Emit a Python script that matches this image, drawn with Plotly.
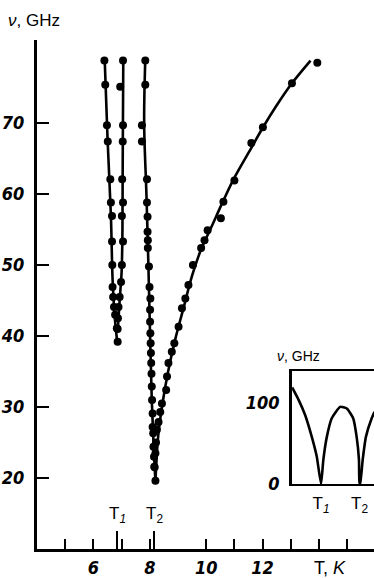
import plotly.graph_objects as go

# ---------------- data ----------------
# Branch 1 (leftmost)
b1_T = [6.39, 6.42, 6.48, 6.51, 6.60, 6.62, 6.66, 6.66, 6.67, 6.68, 6.70, 6.73, 6.77, 6.83, 6.86]
b1_v = [78.8, 75.4, 69.7, 67.4, 62.1, 58.8, 56.9, 53.3, 50.0, 46.9, 45.5, 44.1, 43.0, 41.1, 39.2]
b1_curve_T = [6.40, 6.50, 6.62, 6.68, 6.75, 6.85]
b1_curve_v = [79.0, 68.0, 57.0, 48.0, 43.0, 39.0]

# Branch 2
b2_T = [7.05, 6.95, 7.05, 7.04, 7.02, 7.05, 7.01, 7.05, 7.01, 6.98, 6.93, 6.89, 6.87, 6.86]
b2_v = [78.8, 75.1, 69.7, 67.4, 62.1, 58.8, 56.9, 53.3, 50.0, 47.6, 45.5, 44.1, 42.5, 41.0]
b2_curve_T = [7.06, 7.04, 7.03, 7.00, 6.93, 6.86]
b2_curve_v = [79.0, 65.0, 55.0, 49.0, 45.0, 40.5]

# Branch 3
b3_T = [7.84, 7.84, 7.72, 7.72, 7.90, 7.90, 7.92, 7.92, 7.93, 7.93, 7.97, 7.99, 8.02, 8.01, 8.01,
        8.02, 8.03, 8.04, 8.05, 8.06, 8.07, 8.08, 8.10, 8.10, 8.12, 8.13, 8.15, 8.16, 8.20]
b3_v = [78.8, 75.4, 69.7, 67.4, 62.1, 58.8, 56.8, 54.7, 53.5, 52.4, 49.8, 46.9, 45.3, 43.7, 42.0,
        40.4, 39.0, 37.6, 36.2, 34.7, 32.9, 31.0, 29.1, 27.2, 26.3, 24.4, 23.0, 21.6, 19.6]
b3_curve_T = [7.84, 7.80, 7.88, 7.95, 8.01, 8.07, 8.14, 8.20]
b3_curve_v = [79.0, 70.0, 60.0, 50.0, 40.0, 31.0, 24.0, 19.5]

# Branch 4 (rising)
b4_T = [8.17, 8.20, 8.22, 8.25, 8.31, 8.37, 8.43, 8.58, 8.61, 8.66, 8.78, 8.87, 9.02, 9.14, 9.26,
        9.37, 9.53, 9.82, 9.94, 10.05, 10.52, 10.61, 11.00, 11.60, 12.01, 13.04, 13.94]
b4_v = [21.5, 23.5, 25.0, 26.8, 27.9, 29.3, 30.5, 32.4, 34.3, 36.2, 37.8, 39.0, 41.3, 43.9, 45.3,
        47.2, 50.0, 52.4, 53.5, 54.9, 56.6, 58.9, 61.9, 67.2, 69.4, 75.6, 78.5]
b4_curve_T = [8.20, 8.30, 8.45, 8.65, 8.90, 9.20, 9.50, 9.80, 10.20, 10.60, 11.00, 11.60, 12.00, 12.50, 13.00, 13.70]
b4_curve_v = [19.5, 26.0, 30.5, 35.0, 39.5, 44.0, 48.5, 52.0, 55.5, 59.0, 62.3, 66.5, 69.3, 72.5, 75.4, 78.8]

# Transition temperatures
T1, T2 = 6.84, 8.16

# Axis ticks
x_ticks = [5, 6, 7, 8, 10, 11, 12, 13, 14, 15]
x_labels = ["", "6", "", "8", "10", "", "12", "", "", ""]
y_ticks = [20, 30, 40, 50, 60, 70]

# Inset sketch (arbitrary temperature units, T1 = 1, T2 = 2.33)
inset_u = [0.0, 0.22, 0.45, 0.68, 0.85, 1.0, 1.08, 1.2, 1.37, 1.66, 1.89, 2.11, 2.23, 2.31, 2.33,
           2.35, 2.44, 2.55, 2.75, 2.85]
inset_v = [119, 104, 85, 58, 34, 0, 30, 58, 81, 95, 93, 81, 58, 30, 0, 0, 30, 58, 81, 89]
inset_T1, inset_T2 = 1.0, 2.33

LABEL_FONT = dict(family="DejaVu Sans Condensed, Liberation Sans Narrow, sans-serif",
                  size=18, color="black", weight="bold", style="italic")
TEXT_FONT = "Liberation Sans, Arial, sans-serif"

fig = go.Figure()

line_style = dict(color="black", width=2.6, shape="spline")
marker_style = dict(color="black", size=8)
for cT, cv, mT, mv in [(b1_curve_T, b1_curve_v, b1_T, b1_v),
                       (b2_curve_T, b2_curve_v, b2_T, b2_v),
                       (b3_curve_T, b3_curve_v, b3_T, b3_v),
                       (b4_curve_T, b4_curve_v, b4_T, b4_v)]:
    fig.add_trace(go.Scatter(x=cT, y=cv, mode="lines", line=line_style,
                             showlegend=False, hoverinfo="skip"))
    fig.add_trace(go.Scatter(x=mT, y=mv, mode="markers", marker=marker_style,
                             showlegend=False))

# long T1/T2 ticks on an overlaid axis
fig.add_trace(go.Scatter(x=[T1, T2], y=[None, None], xaxis="x2", yaxis="y",
                         mode="markers", showlegend=False, hoverinfo="skip"))

# inset
fig.add_trace(go.Scatter(x=inset_u, y=inset_v, xaxis="x3", yaxis="y3", mode="lines",
                         line=dict(color="black", width=2.6, shape="spline", smoothing=0.5),
                         showlegend=False, hoverinfo="skip", cliponaxis=True))

fig.update_layout(
    width=374, height=578,
    margin=dict(l=37, r=0, t=40, b=29),
    paper_bgcolor="white", plot_bgcolor="white",
    xaxis=dict(range=[4, 15.95], tickvals=x_ticks, ticktext=x_labels, automargin=False,
               ticks="inside", ticklen=10, tickwidth=1.6, tickcolor="black",
               showline=True, linecolor="black", linewidth=2.5,
               showgrid=False, zeroline=False, tickfont=LABEL_FONT,
               ticklabelstandoff=1),
    xaxis2=dict(range=[4, 15.95], overlaying="x", side="bottom", anchor="y", automargin=False,
                tickvals=[T1, T2], ticktext=["", ""], ticks="inside", ticklen=18,
                tickwidth=1.6, tickcolor="black", showline=False, showgrid=False,
                zeroline=False),
    yaxis=dict(range=[10, 81.7], tickvals=y_ticks, ticktext=[str(v) for v in y_ticks],
               automargin=False,
               ticks="inside", ticklen=12, tickwidth=1.6, tickcolor="black",
               showline=True, linecolor="black", linewidth=3,
               showgrid=False, zeroline=False, tickfont=LABEL_FONT,
               ticklabelstandoff=6),
    xaxis3=dict(domain=[0.757, 1.0], anchor="y3", range=[0, 2.83], automargin=False,
                tickvals=[inset_T1, inset_T2],
                ticktext=["T<sub><i>1</i></sub>", "T<sub>2</sub>"],
                ticks="inside", ticklen=5, tickwidth=1.5, tickcolor="black",
                showline=True, linecolor="black", linewidth=2, mirror=True,
                showgrid=False, zeroline=False,
                tickfont=dict(family=TEXT_FONT, size=17, color="black"),
                ticklabelstandoff=3),
    yaxis3=dict(domain=[0.128, 0.350], anchor="x3", range=[0, 139.5], automargin=False,
                tickvals=[0, 100], ticktext=["0", "100"], ticks="",
                showline=True, linecolor="black", linewidth=3,
                showgrid=False, zeroline=False, tickfont=LABEL_FONT,
                ticklabelstandoff=6),
    annotations=[
        dict(text="<i>ν</i>, GHz", xref="paper", yref="paper", x=-0.092, y=1.038,
             xanchor="left", yanchor="middle", showarrow=False,
             font=dict(family=TEXT_FONT, size=17, color="black")),
        dict(text="<i>ν</i>, GHz", xref="paper", yref="paper", x=0.705, y=0.38,
             xanchor="left", yanchor="middle", showarrow=False,
             font=dict(family=TEXT_FONT, size=14, color="black")),
        dict(text="T<sub><i>1</i></sub>", xref="x", yref="paper", x=T1, y=0.042,
             xanchor="center", yanchor="bottom", showarrow=False,
             font=dict(family=TEXT_FONT, size=17, color="black")),
        dict(text="T<sub>2</sub>", xref="x", yref="paper", x=T2, y=0.042,
             xanchor="center", yanchor="bottom", showarrow=False,
             font=dict(family=TEXT_FONT, size=17, color="black")),
        dict(text="T, <i>K</i>", xref="x", yref="paper", x=14.4, y=-0.037,
             xanchor="center", yanchor="middle", showarrow=False,
             font=dict(family=TEXT_FONT, size=18, color="black")),
    ],
)

fig.write_html("out.html", config={"displayModeBar": False},
               post_script="document.body.style.margin='0';")
